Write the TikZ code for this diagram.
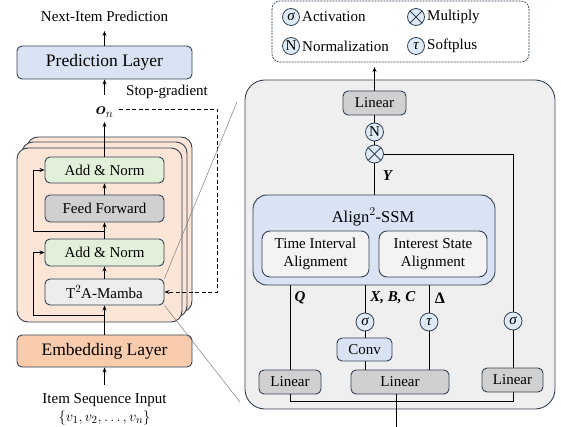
\documentclass[tikz,border=0pt]{standalone}
\usepackage{amsmath,bm}
\usepackage{fontspec}
\setmainfont{Liberation Serif}
\usetikzlibrary{arrows.meta,calc}
\definecolor{bordc}{HTML}{344154}
\definecolor{predfill}{HTML}{DAE3F3}
\definecolor{embfill}{HTML}{F8CBAD}
\definecolor{stackfill}{HTML}{FBE5D6}
\definecolor{addfill}{HTML}{E2F0D9}
\definecolor{fffill}{HTML}{D0D0D0}
\definecolor{mambafill}{HTML}{EDEDED}
\definecolor{bigfill}{HTML}{EFEFEF}
\definecolor{linfill}{HTML}{D0D0D0}
\definecolor{alignfill}{HTML}{DAE3F3}
\definecolor{innerfill}{HTML}{F3F3F3}
\definecolor{circfill}{HTML}{DEEBF7}
\definecolor{zoomgray}{HTML}{808080}
\newcommand{\fn}{\fontsize{15}{18}\selectfont}
\newcommand{\fnbig}{\fontsize{17.5}{20}\selectfont}
\begin{document}
\begin{tikzpicture}[x=1pt,y=-1pt,
  bx/.style={draw=bordc, line width=0.9pt, rounded corners=5pt, inner sep=0pt, font=\fn, align=center},
  opc/.style={circle, draw=bordc, line width=0.8pt, fill=circfill, minimum size=18pt, inner sep=0pt, font=\fn},
  lgc/.style={circle, draw=bordc, line width=0.8pt, fill=circfill, minimum size=17pt, inner sep=0pt, font=\fn},
  lbl/.style={font=\fn, inner sep=1pt},
  arr/.style={-{Stealth[length=5pt,width=4pt]}, line width=0.8pt},
  ln/.style={line width=0.8pt},
  stk/.style={draw=bordc, line width=0.9pt, fill=stackfill, rounded corners=11pt},
  zl/.style={draw=zoomgray, line width=0.5pt}
]
\useasboundingbox (0,0) rectangle (561,427);

% ---------------- left column ----------------
\node[lbl] (nip) at (104.5,16) {Next-Item Prediction};
\node[bx, fill=predfill, minimum width=175pt, minimum height=33pt, font=\fnbig] (pred) at (104.5,62.5) {Prediction Layer};
\coordinate (niptip) at (104.5,31);
\draw[arr] (pred.north) -- (niptip);

\node[lbl, font=\fontsize{18}{20}\selectfont] (on) at (104.5,112) {$\bm{o}_n$};
\coordinate (onbot) at (104.5,122);
\coordinate (ontop) at (104.5,95);
\draw[arr] (ontop) -- (pred.south);
\node[lbl] (sg) at (167,92) {Stop-gradient};

% stack
\draw[stk] (27,137) rectangle (192,312);
\draw[stk] (22,142) rectangle (187,317);
\draw[stk] (17,148) rectangle (182,322);

\node[bx, fill=addfill, minimum width=119pt, minimum height=26pt] (an1) at (104.5,170) {Add \& Norm};
\node[bx, fill=fffill, minimum width=119pt, minimum height=27pt] (ff) at (104.5,208.5) {Feed Forward};
\node[bx, fill=addfill, minimum width=119pt, minimum height=27pt] (an2) at (104.5,252.5) {Add \& Norm};
\node[bx, fill=mambafill, minimum width=119pt, minimum height=26pt] (mamba) at (104.5,292) {T$^2$A-Mamba};

\node[bx, fill=embfill, minimum width=175pt, minimum height=32pt, font=\fnbig] (emb) at (104.5,351) {Embedding Layer};
\node[lbl] (isi) at (104.5,400) {Item Sequence Input};
\node[lbl] (vset) at (104.5,418) {$\{v_1, v_2, \dots, v_n\}$};
\coordinate (isitop) at (104.5,385);
\draw[arr] (isitop) -- (emb.south);

\draw[arr] (emb.north) -- (mamba.south);
\draw[arr] (mamba.north) -- (an2.south);
\draw[arr] (an2.north) -- (ff.south);
\draw[arr] (ff.north) -- (an1.south);
\draw[arr] (an1.north) -- (onbot);

% residuals
\coordinate (r1s) at (104.5,231);
\draw[arr] (r1s) -- (33,231) -- (33,170) -- (an1.west);
\coordinate (r2s) at (104.5,315);
\draw[arr] (r2s) -- (33,315) -- (33,252.5) -- (an2.west);

% stop gradient
\coordinate (sgs) at (119,109);
\draw[arr, dash pattern=on 4pt off 2.5pt] (sgs) -- (217,109) -- (217,292) -- (mamba.east);

% zoom lines
\coordinate (zl1) at (237,102);
\coordinate (zl2) at (240,402);
\draw[zl] (mamba.north east) -- (zl1);
\draw[zl] (mamba.south east) -- (zl2);

% ---------------- legend ----------------
\draw[draw=bordc, line width=0.7pt, dash pattern=on 2pt off 1pt, rounded corners=8pt] (272,1) rectangle (529,62);
\node[lgc] (lsig) at (291,17) {\itshape σ};
\node[lbl, anchor=west] (lact) at (301,17) {Activation};
\node[lgc] (lmul) at (416,17) {};
\draw[bordc, line width=0.8pt] (lmul.north east) -- (lmul.south west);
\draw[bordc, line width=0.8pt] (lmul.north west) -- (lmul.south east);
\node[lbl, anchor=west] (lmt) at (426,17) {Multiply};
\node[lgc] (lnor) at (291,46) {N};
\node[lbl, anchor=west] (lnt) at (301,46) {Normalization};
\node[lgc] (ltau) at (416,46) {\itshape τ};
\node[lbl, anchor=west] (ltt) at (426,46) {Softplus};

% ---------------- right panel ----------------
\draw[draw=bordc, line width=0.9pt, fill=bigfill, rounded corners=20pt] (245,80) rectangle (555,409);

\node[bx, fill=linfill, minimum width=63pt, minimum height=24pt] (lintop) at (374.5,103) {Linear};
\coordinate (legbot) at (374.5,67);
\draw[arr] (lintop.north) -- (legbot);
\node[opc] (norm) at (374.5,132) {N};
\node[opc] (mul) at (374.5,154) {};
\draw[bordc, line width=0.8pt] (mul.north east) -- (mul.south west);
\draw[bordc, line width=0.8pt] (mul.north west) -- (mul.south east);
\draw[ln] (lintop.south) -- (norm.north);
\draw[ln] (norm.south) -- (mul.north);

\node[bx, fill=alignfill, minimum width=242pt, minimum height=90pt, rounded corners=14pt] (align) at (374,240) {};
\node[lbl, font=\fontsize{16.5}{20}\selectfont] (atitle) at (373,217) {Align$^2$-SSM};
\node[bx, fill=innerfill, minimum width=107pt, minimum height=46pt, rounded corners=8pt] (tia) at (315.5,254) {Time Interval\\Alignment};
\node[bx, fill=innerfill, minimum width=108pt, minimum height=46pt, rounded corners=8pt] (isa) at (433,254) {Interest State\\Alignment};
\draw[ln] (mul.south) -- (align.north -| mul.south);
\node[lbl] (ylab) at (388,176) {\textbf{\textit{Y}}};

\node[opc] (sig1) at (365,322) {\itshape σ};
\node[opc] (tau) at (429,322) {\itshape τ};
\node[opc] (sig2) at (513,321) {\itshape σ};
\node[bx, fill=alignfill, minimum width=55pt, minimum height=23pt] (conv) at (364.5,349.5) {Conv};
\node[bx, fill=linfill, minimum width=62pt, minimum height=24pt] (linL) at (290,382) {Linear};
\node[bx, fill=linfill, minimum width=98pt, minimum height=24pt] (linM) at (400,382) {Linear};
\node[bx, fill=linfill, minimum width=61pt, minimum height=24pt] (linR) at (512.5,380) {Linear};

% Q
\draw[ln] (linL.north -| 290,0) -- (align.south -| 290,0);
\node[lbl] (qlab) at (300,298) {\textbf{\textit{Q}}};
% X,B,C
\draw[ln] (align.south -| sig1) -- (sig1.north);
\draw[ln] (sig1.south) -- (conv.north -| sig1);
\draw[ln] (conv.south -| sig1) -- (linM.north -| sig1);
\node[lbl] (xbc) at (393,298) {\textbf{\textit{X, B, C}}};
% Delta
\draw[ln] (align.south -| tau) -- (tau.north);
\draw[ln] (tau.south) -- (linM.north -| tau);
\node[lbl, font=\fontsize{16}{18}\selectfont] (dlab) at (440,298) {\textbf{Δ}};
% gate branch
\draw[ln] (mul.east) -- (sig2.north |- mul.east) -- (sig2.north);
\draw[ln] (sig2.south) -- (linR.north -| sig2);
% bottom bus
\coordinate (busL) at (290,401);
\coordinate (busR) at (513,401);
\draw[ln] (linL.south -| busL) -- (busL) -- (busR) -- (linR.south -| busR);
\coordinate (inp) at (396,427);
\draw[ln] (inp) -- (linM.south -| inp);
\end{tikzpicture}
\end{document}
